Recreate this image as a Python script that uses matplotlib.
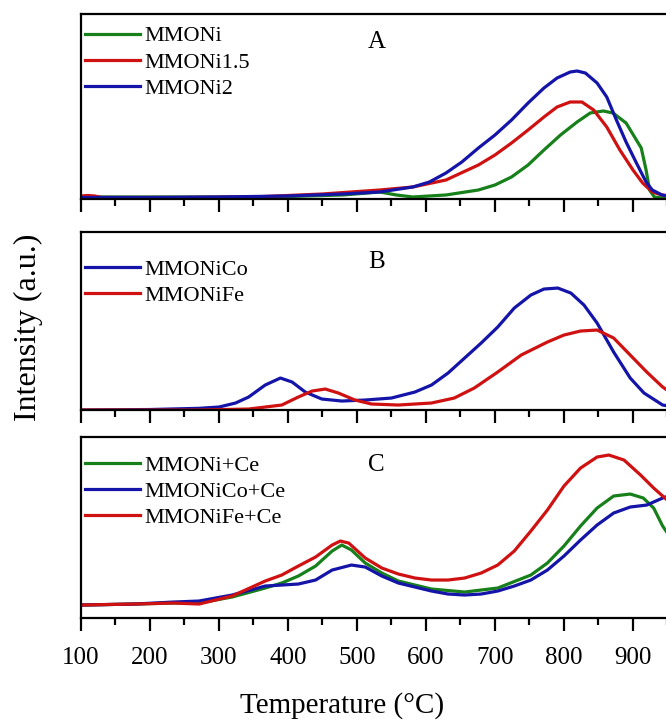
import matplotlib.pyplot as plt
from matplotlib.ticker import MultipleLocator

plt.rcParams['font.family'] = ['Liberation Serif', 'DejaVu Serif']

GREEN = '#17801a'
RED = '#cf1111'
BLUE = '#1414a8'

# Panel A: MMONi series (temperature in C, intensity a.u.)
t_a_green = [100, 200, 300, 400, 480, 533, 557, 581, 629, 676, 700, 724, 748, 771, 795,
             819, 838, 857, 871, 890, 912, 919, 924, 931, 942, 960]
i_a_green = [2, 2, 2, 2.5, 4, 7, 4, 2, 4, 9, 14, 22, 34, 49, 64,
             77, 86, 88, 86, 76, 51, 29, 9, 2, 1, 1]
t_a_red = [100, 110, 120, 130, 150, 250, 350, 450, 533, 581, 629, 676, 700, 724, 748,
           771, 790, 809, 826, 843, 862, 881, 900, 914, 928, 942, 960]
i_a_red = [3, 3.5, 3, 1.5, 1.5, 1.5, 2, 5, 9, 12, 19, 34, 44, 56, 69,
           82, 92, 97, 97, 89, 72, 49, 29, 16, 7, 4, 2]
t_a_blue = [100, 200, 300, 400, 480, 533, 581, 605, 629, 652, 676, 700, 724, 748, 771,
            790, 809, 819, 831, 848, 862, 876, 890, 905, 919, 928, 942, 960]
i_a_blue = [1.5, 1.5, 2, 3, 5, 7, 12, 17, 26, 37, 51, 64, 79, 96, 111,
            121, 127, 128, 126, 116, 102, 79, 57, 36, 17, 9, 4, 2]

# Panel B: MMONiCo / MMONiFe
t_b_co = [100, 200, 271, 300, 324, 343, 367, 389, 406, 425, 449, 478, 512, 550, 584,
          608, 632, 656, 680, 704, 728, 752, 771, 791, 810, 829, 848, 872, 896, 916, 943, 960]
i_b_co = [0, 0.5, 1.7, 3, 7, 13, 25, 32, 28, 18, 11, 9, 10, 12, 18,
          25, 37, 52, 67, 83, 102, 115, 121, 122, 117, 105, 87, 58, 32, 17, 5, 3]
t_b_fe = [100, 271, 343, 391, 415, 435, 454, 473, 497, 521, 560, 608, 641, 670, 704,
          738, 776, 800, 824, 848, 872, 896, 920, 943, 960]
i_b_fe = [0, 0, 1, 5, 13, 19, 21, 17, 10, 6, 5, 7, 12, 22, 38,
          55, 68, 75, 79, 80, 72, 55, 38, 23, 15]

# Panel C: Ce-doped samples
t_c_ni = [100, 178, 234, 271, 319, 367, 391, 415, 440, 464, 478, 492, 512, 536, 560,
          608, 656, 704, 752, 776, 800, 824, 848, 872, 896, 915, 930, 943, 960]
i_c_ni = [13, 14, 15, 15, 21, 30, 35, 42, 52, 67, 73, 68, 55, 45, 37,
          29, 26, 30, 43, 55, 72, 92, 110, 122, 124, 120, 110, 92, 75]
t_c_co = [100, 178, 234, 271, 319, 367, 391, 415, 440, 464, 492, 512, 536, 560, 584,
          608, 632, 656, 680, 704, 728, 752, 776, 800, 824, 848, 872, 896, 920, 943, 960]
i_c_co = [13, 14, 16, 17, 23, 32, 33, 34, 38, 48, 53, 51, 42, 35, 31,
          27, 24, 23, 24, 27, 32, 38, 48, 62, 78, 93, 105, 111, 113, 120, 124]
t_c_fe = [100, 178, 234, 271, 319, 367, 391, 415, 440, 464, 476, 488, 512, 536, 560,
          584, 608, 632, 656, 680, 704, 728, 752, 776, 800, 824, 848, 865, 887, 911, 930, 943, 960]
i_c_fe = [13, 14, 15, 14, 22, 37, 43, 52, 61, 73, 77, 75, 60, 50, 44,
          40, 38, 38, 40, 45, 53, 67, 87, 108, 132, 150, 161, 163, 158, 143, 130, 122, 112]

x_ticks = [100, 200, 300, 400, 500, 600, 700, 800, 900, 1000]
x_tick_labels = ['100', '200', '300', '400', '500', '600', '700', '800', '900', '']

fig = plt.figure(figsize=(6.66, 7.22), dpi=100)

panels = [
    # (bottom, height, ymax, letter, letter y, legend anchor y, series)
    (0.7244, 0.2562, 185, 'A', 0.85, 1.02,
     [(t_a_green, i_a_green, GREEN, 'MMONi'),
      (t_a_red, i_a_red, RED, 'MMONi1.5'),
      (t_a_blue, i_a_blue, BLUE, 'MMONi2')]),
    (0.4321, 0.2465, 178, 'B', 0.83, 0.935,
     [(t_b_co, i_b_co, BLUE, 'MMONiCo'),
      (t_b_fe, i_b_fe, RED, 'MMONiFe')]),
    (0.1440, 0.2507, 181, 'C', 0.845, 0.985,
     [(t_c_ni, i_c_ni, GREEN, 'MMONi+Ce'),
      (t_c_co, i_c_co, BLUE, 'MMONiCo+Ce'),
      (t_c_fe, i_c_fe, RED, 'MMONiFe+Ce')]),
]

axes = []
for bottom, height, ymax, letter, let_y, leg_y, series in panels:
    ax = fig.add_axes([0.1216, bottom, 0.9324, height])
    for t, i, c, lab in series:
        ax.plot(t, i, color=c, lw=2.3, label=lab)
    ax.set_xlim(100, 1000)
    ax.set_ylim(0, ymax)
    ax.set_yticks([])
    ax.set_xticks(x_ticks)
    ax.set_xticklabels(x_tick_labels)
    ax.xaxis.set_minor_locator(MultipleLocator(50))
    ax.tick_params(axis='x', which='major', direction='out', length=9.5, width=1.6,
                   labelsize=18, pad=11)
    ax.tick_params(axis='x', which='minor', direction='out', length=5, width=1.6)
    for s in ax.spines.values():
        s.set_linewidth(1.6)
    ax.text(0.476, let_y, letter, transform=ax.transAxes, fontsize=18,
            ha='center', va='center')
    ax.legend(loc='upper left', bbox_to_anchor=(-0.019, leg_y), frameon=False,
              fontsize=16, handlelength=2.5, handletextpad=0.2,
              labelspacing=0.25, borderaxespad=0.3)
    axes.append(ax)

axes[0].tick_params(labelbottom=False)
axes[1].tick_params(labelbottom=False)
fig.text(0.514, 0.0235, 'Temperature (\u00b0C)', fontsize=21,
         ha='center', va='center')
fig.text(0.042, 0.546, 'Intensity (a.u.)', rotation=90, fontsize=23,
         ha='center', va='center')

plt.savefig('out.png', dpi=100)
